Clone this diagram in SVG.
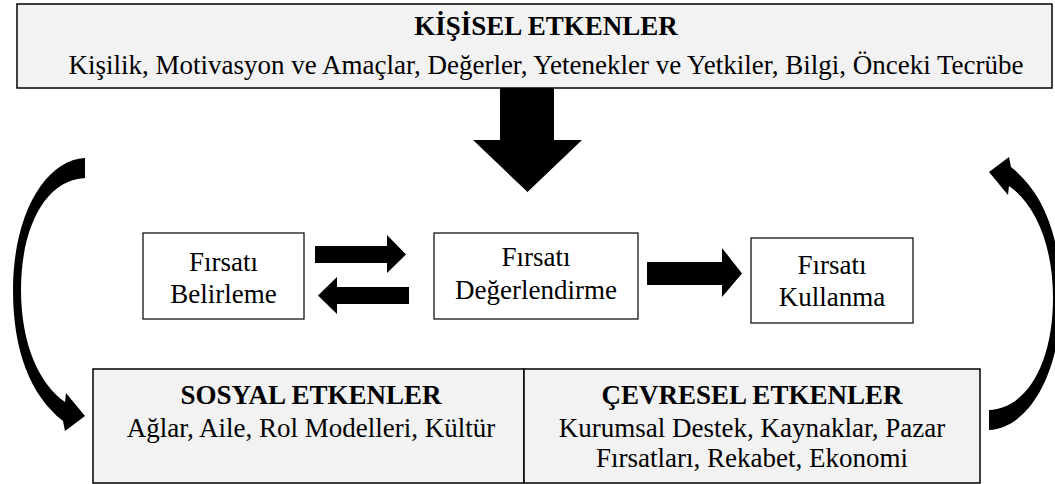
<svg xmlns="http://www.w3.org/2000/svg" width="1055" height="484" viewBox="0 0 1055 484">
  <style>
    .panel { fill: #f2f2f2; stroke: #000; stroke-width: 1.5; }
    .step { fill: #ffffff; stroke: #000; stroke-width: 1.2; }
    .t { font-size: 27px; fill: #000; text-anchor: middle; }
    .b { font-weight: bold; }
    .arrow { fill: #000; stroke: none; }
  </style>
  <defs>
    <!-- curved block arrow sweeping down the left side, head pointing right -->
    <path id="curved-arrow" d="M85,158 C45,160 13,215 13,290 C13,350 30,395 63,421 L65,431 L85,416 L66,393 L65,402 C40,385 21,345 21,290 C21,228 45,180 85,178 Z"/>
  </defs>
  <rect width="1055" height="484" fill="#ffffff"/>

  <g font-family="'Liberation Serif', Tinos, 'Times New Roman', Times, 'DejaVu Serif', serif">
    <!-- personal factors -->
    <g id="kisisel">
      <rect class="panel" x="17" y="4" width="1035" height="84"/>
      <text class="t b" x="546" y="35">KİŞİSEL ETKENLER</text>
      <text class="t" x="546" y="74">Kişilik, Motivasyon ve Amaçlar, Değerler, Yetenekler ve Yetkiler, Bilgi, Önceki Tecrübe</text>
    </g>

    <!-- process steps -->
    <g id="belirleme">
      <rect class="step" x="143" y="233" width="161" height="86"/>
      <text class="t" x="223.5" y="271">Fırsatı</text>
      <text class="t" x="223.5" y="303">Belirleme</text>
    </g>
    <g id="degerlendirme">
      <rect class="step" x="434" y="233" width="204" height="86"/>
      <text class="t" x="536" y="266">Fırsatı</text>
      <text class="t" x="536" y="299">Değerlendirme</text>
    </g>
    <g id="kullanma">
      <rect class="step" x="751" y="238" width="162" height="85"/>
      <text class="t" x="832" y="274">Fırsatı</text>
      <text class="t" x="832" y="306">Kullanma</text>
    </g>

    <!-- social and environmental factors -->
    <g id="sosyal">
      <rect class="panel" x="93" y="369" width="431" height="114"/>
      <text class="t b" x="311" y="404">SOSYAL ETKENLER</text>
      <text class="t" x="311" y="437">Ağlar, Aile, Rol Modelleri, Kültür</text>
    </g>
    <g id="cevresel">
      <rect class="panel" x="524" y="369" width="456" height="114"/>
      <text class="t b" x="752" y="404">ÇEVRESEL ETKENLER</text>
      <text class="t" x="752" y="437">Kurumsal Destek, Kaynaklar, Pazar</text>
      <text class="t" x="752" y="467">Fırsatları, Rekabet, Ekonomi</text>
    </g>
  </g>

  <!-- connectors -->
  <g id="connectors" class="arrow">
    <polygon points="500,88 554,88 554,140 582,140 527.5,192 473,140 500,140"/>
    <polygon points="315,246 387,246 387,235 406,254.5 387,273 387,263 315,263"/>
    <polygon points="409,287 337,287 337,277 318,295.5 337,314 337,304 409,304"/>
    <polygon points="647,262 722,262 722,248 742,273.5 722,297 722,285 647,285"/>
    <use href="#curved-arrow"/>
    <use href="#curved-arrow" transform="rotate(180 537 294)"/>
  </g>
</svg>
